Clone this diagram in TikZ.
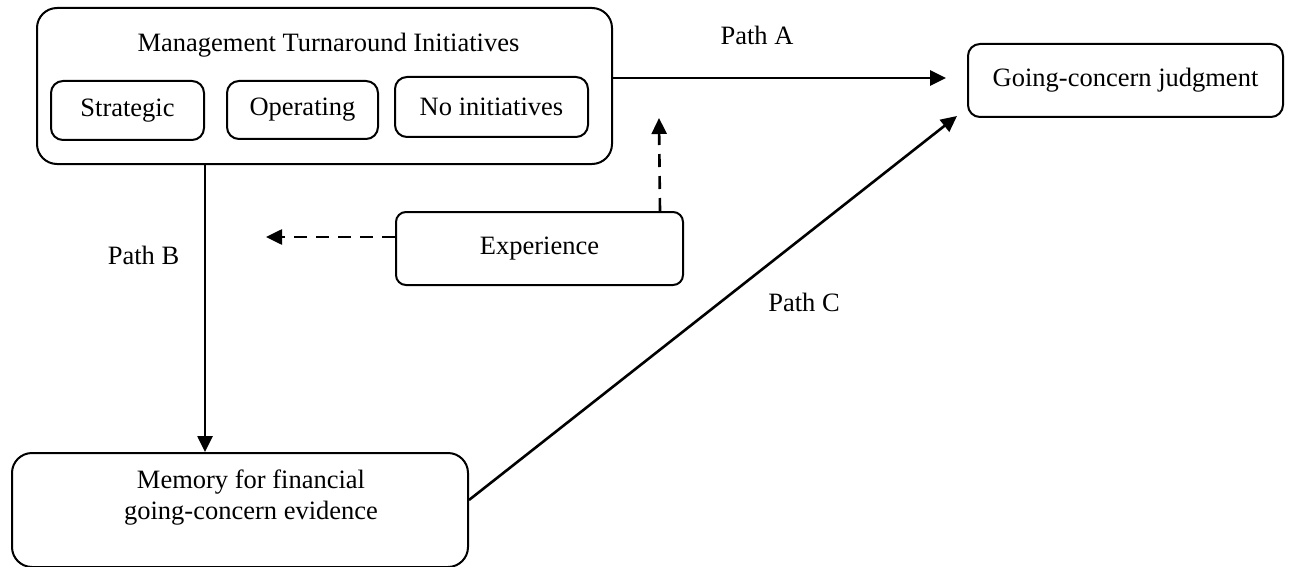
\documentclass[tikz,border=0pt]{standalone}
\usepackage{fontspec}
\setmainfont{Liberation Serif}
\usetikzlibrary{arrows.meta}
\begin{document}
\begin{tikzpicture}[x=0.5pt,y=-0.5pt,
  txt/.style={font=\fontsize{13.25}{15.5}\selectfont},
  box/.style={draw, line width=1pt, rounded corners=#1, inner sep=0pt, align=center, txt},
  box/.default=6pt,
  arr/.style={line width=1.3pt, -{Triangle[length=8pt,width=7.5pt]}},
  darr/.style={arr, dash pattern=on 6.5pt off 4.5pt}]
\useasboundingbox (0,0) rectangle (1290,567);
% boxes
\node[box=10pt, minimum width=287.5pt, minimum height=78pt] (mgmt) at (324.5,86) {};
\node[txt] (title) at (328.5,45) {Management Turnaround Initiatives};
\node[box=6pt, minimum width=76.5pt, minimum height=29.5pt] (strat) at (127.5,110.5) {Strategic};
\node[box=6pt, minimum width=75.5pt, minimum height=29pt] (oper) at (302.5,110) {Operating};
\node[box=6pt, minimum width=96.5pt, minimum height=30pt] (noinit) at (491.5,107) {No initiatives};
\node[box=6pt, minimum width=157.5pt, minimum height=36.5pt] (going) at (1125.5,80.5) {Going-concern judgment};
\node[box=5pt, minimum width=143.5pt, minimum height=36.5pt] (exper) at (539.5,248.5) {Experience};
\node[box=10pt, minimum width=228pt, minimum height=57pt] (mem) at (240,510) {};
\node[txt, align=center] (memtxt) at (251,497.5) {Memory for financial\\going-concern evidence};
% labels
\node[txt] (pa) at (757,35) {Path A};
\node[txt] (pb) at (143.5,255) {Path B};
\node[txt] (pc) at (804,302) {Path C};
% connectors
\coordinate (dl) at (266,237);
\coordinate (du) at (659,118);
\draw[arr, shorten >=10.5pt] ([yshift=4pt]mgmt.east) -- ([yshift=1.25pt]going.west);
\draw[arr] (mgmt.south -| strat.east) -- (mem.north -| strat.east);
\draw[arr] ([yshift=5pt]mem.east) -- ([xshift=-5pt,yshift=1pt]going.south west);
\draw[darr] ([yshift=5.75pt]exper.west) -- (dl);
\draw[darr] ([xshift=-12pt]exper.north east) -- (du);
\end{tikzpicture}
\end{document}
